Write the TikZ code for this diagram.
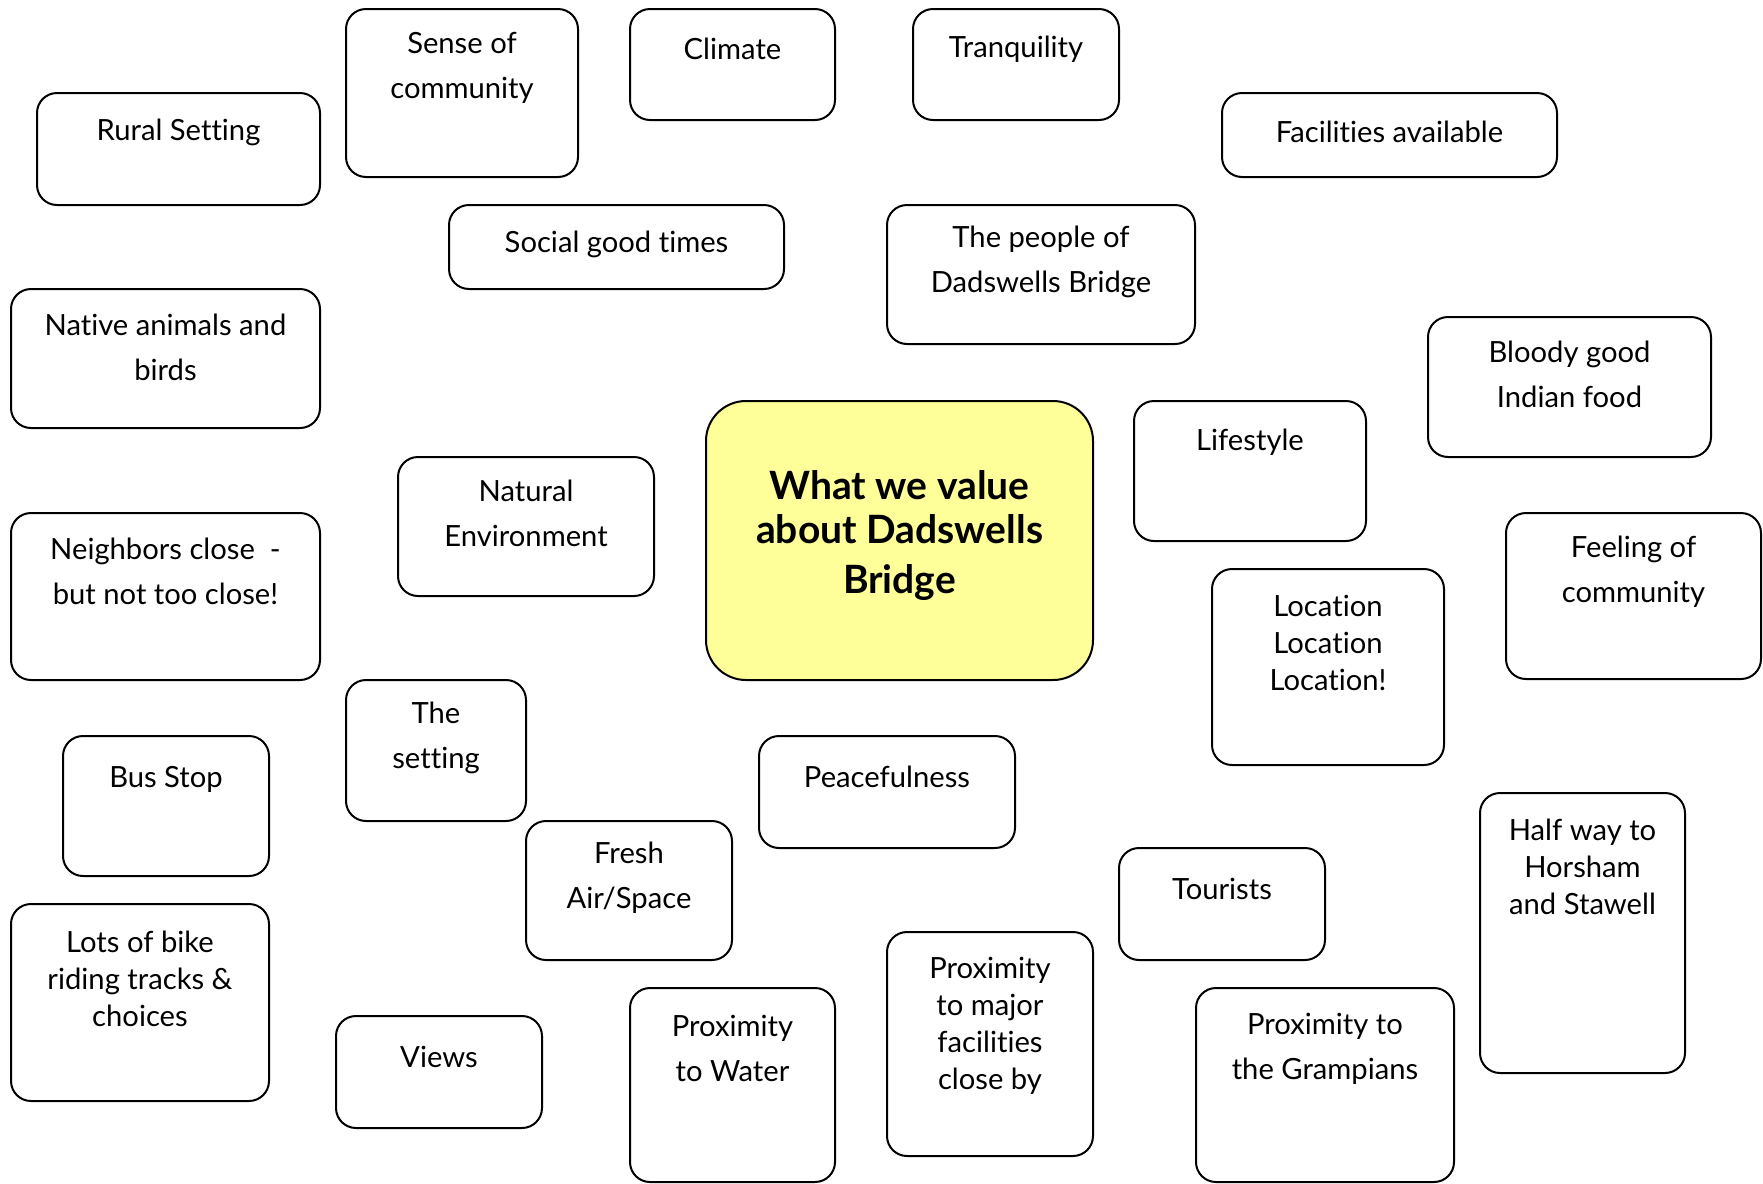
\documentclass[tikz,border=0pt]{standalone}
\usepackage{fontspec}
\setmainfont{Lato}[Ligatures=NoCommon]
\definecolor{valueyellow}{RGB}{255, 255, 153}
\usepackage{tikz}
\usetikzlibrary{fit, positioning}

\begin{document}
\begin{tikzpicture}[
  x=0.5pt, y=-0.5pt,
  valbox/.style={draw, line width=1pt, rounded corners=10pt, inner sep=0pt},
  valtext/.style={align=center, inner sep=0pt, yshift=-1pt, font=\fontsize{14.6}{22.5}\selectfont},
  tighttext/.style={valtext, yshift=0pt, font=\fontsize{14.6}{18.5}\selectfont}
]
  \useasboundingbox (0,0) rectangle (1763,1184);

  % centre box
  \node[valbox, fill=valueyellow, rounded corners=20pt, fit={(706,401) (1093,680)}] (centre) {};
  \node[valtext, yshift=0pt, font=\bfseries\fontsize{19.5}{22}\selectfont] (centre-t) at (899.5,534) {What we value\\about Dadswells\\[3pt]Bridge};

  % top row
  \node[valbox, fit={(37,93) (320,205)}] (rural) {};
  \node[valtext] (rural-t) at (rural.center |- 0,130) {Rural Setting};
  \node[valbox, fit={(346,9) (578,177)}] (sense) {};
  \node[valtext] (sense-t) at (sense.center |- 0,65.5) {Sense of\\community};
  \node[valbox, fit={(630,9) (835,120)}] (climate) {};
  \node[valtext] (climate-t) at (climate.center |- 0,47) {Climate};
  \node[valbox, fit={(913,9) (1119,120)}] (tranq) {};
  \node[valtext] (tranq-t) at (tranq.center |- 0,47) {Tranquility};
  \node[valbox, fit={(1222,93) (1557,177)}] (facil) {};
  \node[valtext] (facil-t) at (facil.center |- 0,130) {Facilities available};
  \node[valbox, fit={(449,205) (784,289)}] (social) {};
  \node[valtext] (social-t) at (social.center |- 0,242) {Social good times};
  \node[valbox, fit={(887,205) (1195,344)}] (people) {};
  \node[valtext] (people-t) at (people.center |- 0,260) {The people of\\Dadswells Bridge};

  % left column
  \node[valbox, fit={(11,289) (320,428)}] (native) {};
  \node[valtext] (native-t) at (native.center |- 0,345) {Native animals and\\birds};
  \node[valbox, fit={(398,457) (654,596)}] (natural) {};
  \node[valtext] (natural-t) at (natural.center |- 0,511.5) {Natural\\Environment};
  \node[valbox, fit={(11,513) (320,680)}] (neighbours) {};
  \node[valtext] (neighbours-t) at (neighbours.center |- 0,569.5) {Neighbors close\ \ -\\but not too close!};
  \node[valbox, fit={(346,680) (526,821)}] (setting) {};
  \node[valtext] (setting-t) at (setting.center |- 0,736) {The\\setting};
  \node[valbox, fit={(63,736) (269,876)}] (busstop) {};
  \node[valtext] (busstop-t) at (busstop.center |- 0,777) {Bus Stop};
  \node[valbox, fit={(11,904) (269,1101)}] (bike) {};
  \node[tighttext] (bike-t) at (bike.center |- 0,977) {Lots of bike\\riding tracks \&\\choices};
  \node[valbox, fit={(336,1016) (542,1128)}] (views) {};
  \node[valtext] (views-t) at (views.center |- 0,1055) {Views};

  % right side
  \node[valbox, fit={(1428,317) (1711,457)}] (indian) {};
  \node[valtext] (indian-t) at (indian.center |- 0,372) {Bloody good\\Indian food};
  \node[valbox, fit={(1134,401) (1366,541)}] (lifestyle) {};
  \node[valtext] (lifestyle-t) at (lifestyle.center |- 0,440) {Lifestyle};
  \node[valbox, fit={(1506,513) (1761,679)}] (feeling) {};
  \node[valtext] (feeling-t) at (feeling.center |- 0,569.5) {Feeling of\\community};
  \node[valbox, fit={(1212,569) (1444,765)}] (location) {};
  \node[tighttext] (location-t) at (location.center |- 0,641) {Location\\Location\\Location!};
  \node[valbox, fit={(1480,793) (1685,1073)}] (halfway) {};
  \node[tighttext] (halfway-t) at (halfway.center |- 0,865) {Half way to\\Horsham\\and Stawell};
  \node[valbox, fit={(1119,848) (1325,960)}] (tourists) {};
  \node[valtext] (tourists-t) at (tourists.center |- 0,887) {Tourists};
  \node[valbox, fit={(1196,988) (1454,1182)}] (grampians) {};
  \node[valtext] (grampians-t) at (grampians.center |- 0,1046.5) {Proximity to\\the Grampians};

  % bottom middle
  \node[valbox, fit={(759,736) (1015,848)}] (peace) {};
  \node[valtext] (peace-t) at (peace.center |- 0,775) {Peacefulness};
  \node[valbox, fit={(526,821) (732,960)}] (fresh) {};
  \node[valtext] (fresh-t) at (fresh.center |- 0,875.5) {Fresh\\Air/Space};
  \node[valbox, fit={(887,932) (1093,1156)}] (major) {};
  \node[tighttext] (major-t) at (major.center |- 0,1023.5) {Proximity\\to major\\facilities\\close by};
  \node[valbox, fit={(630,988) (835,1182)}] (water) {};
  \node[valtext] (water-t) at (water.center |- 0,1046) {Proximity\\to Water};
\end{tikzpicture}
\end{document}
